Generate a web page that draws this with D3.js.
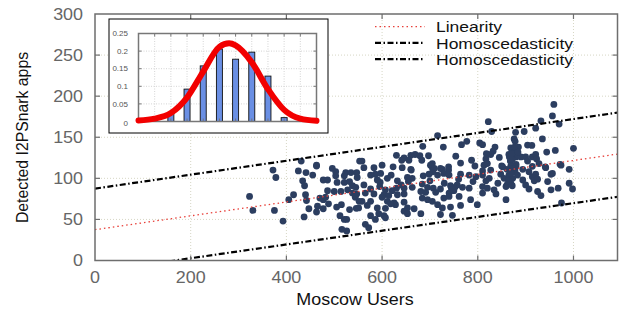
<!DOCTYPE html>
<html>
<head>
<meta charset="UTF-8">
<title>Detected I2PSnark apps vs Moscow users</title>
<script src="https://cdn.jsdelivr.net/npm/d3@7"></script>
<style>
  body { margin: 0; background: #fff; }
  text { font-family: "Liberation Sans", Arial, sans-serif; }
</style>
</head>
<body>
<script>
// axis ticks
var xTicks = [0, 200, 400, 600, 800, 1000];
var yTicks = [0, 50, 100, 150, 200, 250, 300];

// scatter (users, apps)
var points = [
  [372,110],[378,101],[425,109],[441,107],[455,104],[463,115],[434,97],[438,91],[477,98],[486,98],
  [496,112],[503,108],[503,103],[524,107],[535,107],[521,103],[547,107],[548,101],[506,95],[521,95],
  [532,96],[538,91],[545,89],[486,85],[500,84],[514,84],[528,86],[538,82],[547,81],[323,78],
  [415,80],[405,74],[440,80],[442,73],[470,76],[482,77],[477,74],[488,69],[465,66],[447,63],
  [463,59],[477,63],[505,65],[515,68],[532,62],[546,63.5],[551,64],[544,77],[552,72],[330,61],
  [375,61],[437,53],[512,54.5],[521,50],[526,50],[393,48],[516,38],[526,36],
  [431,121],[463,116],[553,121],
  [558,121],[562,113],[583,113],[600,116],[623,114],[630,128],[646,125],[641,122],[660,128],[669,129],
  [679,127.5],[656,122],[685,139],[697,127.5],[683,122],[642,113],[660,111],[701,116],[705,113],[726,111],
  [739,114],[716,152],[728,138],[754,127],[764,118.6],[766,141],[777,145],[787,122],[794,115],[804,143],
  [959,190],[956,176],[932,170],[970,166],[921,161],[822,169],[829,157],[879,156],[897,157],[876,148],
  [878,145],[935,148],[810,141],[836,138],[904,140.5],[913,140],[885,138],[869,137],[873,134],[876,132],
  [832,133],[827,129],[845,125.5],[962,134],[944,132],[1000,136.5],[865,129],[880,126],[890,126],[900,126],
  [914,126],[921,129],[923,123.5],[817,123.5],[820,118],[813,116],[868,121],[880,117],[904,121],[850,115],
  [869,115],[914,114.6],[941,114],[972,117],[991,111],[861,111],[894,111],
  [661,110],[706,108],[722,112],[739,110],[576,104],[586,105],[597,106],[619,104],[590,98],[611,100],
  [632,97],[653,101],[663,100],[686,103],[698,105],[716,104],[729,106],[740,104],[764,105],[782,104],
  [796,102],[562,92],[576,87],[595,90],[607,86],[621,85],[630,88],[646,88],[663,89],[684,93],
  [695,89],[707,88],[722,87],[745,88],[757,92],[768,89],[782,88],[565,82],[583,81],[604,80],
  [614,79],[632,80],[646,81],[681,84],[691,83],[712,83],[740,82],[750,85],[558,72],[576,72],
  [611,72],[625,70],[646,71],[684,76],[695,74],[705,72],[729,76],[740,78],[761,78],[785,74],
  [569,67],[590,64],[607,63.5],[628,68],[653,64],[667,63],[716,68],[726,64],[743,65],[764,67],
  [799,68],[593,57],[604,54.5],[646,60],[653,57],[681,57],[722,56],[747,55],[576,54.5],[586,50],
  [607,52],[565,44],[572,40],
  [810,109],[827,110],[852,114],[880,114],[907,108],[921,105],[942,113],[974,116],[810,104],[824,100],
  [817,97],[848,105],[855,100],[865,104],[873,100],[883,104],[894,98],[914,102],[918,97],[925,99],
  [953,105],[956,106],[810,90],[820,88],[834,86],[810,82],[838,81],[861,92],[869,94],[859,90],
  [907,87],[925,84],[932,79],[953,86],[968,88],[998,87],[991,94],[859,74],[975,70],
  [743,91],[748,86],[752,89],[705,118],[709,112],[873,112],[878,108],[869,106],[864,97],[872,91],
  [866,126],[872,123],[877,138],[871,130],[746,86],[600,77],[618,69],[596,95],[640,92],[655,96],
  [700,97],[730,94],[760,99],[790,96],[842,94],[900,92],[946,96],[818,130],[884,132],[928,118]
];

// fitted lines (end points)
var linearity = [[0, 37.5], [1092, 129.5]];
var homoUpper = [[0, 87.5], [1092, 180]];
var homoLower = [[0, -14], [1092, 77.5]];
var legendLabels = ["Linearity", "Homoscedasticity", "Homoscedasticity"];

// inset histogram
var histBins = [2, 3, 4, 5, 6, 7, 8, 9];
var histValues = [0.024, 0.092, 0.158, 0.206, 0.177, 0.197, 0.129, 0.011];
var curveX = [0, 1, 2, 3, 4, 5, 5.6, 6, 7, 8, 9, 10, 11];
var curveY = [0.003, 0.008, 0.024, 0.068, 0.142, 0.212, 0.222, 0.216, 0.168, 0.092, 0.033, 0.008, 0.002];
var insetYTicks = [0, 0.05, 0.1, 0.15, 0.2, 0.25];
var insetYLabels = ["0", "0.05", "0.1", "0.15", "0.2", "0.25"];

var W = 621, H = 310;
var L = 95, R = 617.5, T = 14, B = 260.5;
var svg = d3.select("body").append("svg").attr("width", W).attr("height", H);

var x = d3.scaleLinear().domain([0, 1092]).range([L, R]);
var y = d3.scaleLinear().domain([0, 300]).range([B, T]);
var stretch = 1.12;

// grid
var grid = svg.append("g");
grid.selectAll(".gx").data(xTicks.slice(1)).enter().append("line")
    .attr("x1", d => x(d)).attr("x2", d => x(d)).attr("y1", T).attr("y2", B)
    .attr("stroke", "#d6d6c4").attr("stroke-dasharray", "1,2");
grid.selectAll(".gy").data(yTicks.slice(1, -1)).enter().append("line")
    .attr("x1", L).attr("x2", R).attr("y1", d => y(d)).attr("y2", d => y(d))
    .attr("stroke", "#d6d6c4").attr("stroke-dasharray", "1,2");

svg.append("clipPath").attr("id", "plot").append("rect")
    .attr("x", L).attr("y", T).attr("width", R - L).attr("height", B - T);

var line = d3.line().x(d => x(d[0])).y(d => y(d[1]));
var lines = svg.append("g").attr("clip-path", "url(#plot)");

// points
lines.selectAll("circle").data(points).enter().append("circle")
    .attr("cx", d => x(d[0])).attr("cy", d => y(d[1])).attr("r", 3.4)
    .attr("fill", "#2c3e60");

lines.append("path").attr("d", line(linearity)).attr("fill", "none")
    .attr("stroke", "#e8403a").attr("stroke-width", 1.3).attr("stroke-dasharray", "1.5,3");
[homoUpper, homoLower].forEach(function(l) {
    lines.append("path").attr("d", line(l)).attr("fill", "none")
        .attr("stroke", "#000").attr("stroke-width", 2.2).attr("stroke-dasharray", "6,2.5,1.5,2.5");
});

// frame + inward ticks
svg.append("rect").attr("x", L).attr("y", T).attr("width", R - L).attr("height", B - T)
    .attr("fill", "none").attr("stroke", "#6e6e6e").attr("stroke-width", 1.5);
var tk = svg.append("g").attr("stroke", "#6e6e6e").attr("stroke-width", 1.2);
xTicks.slice(1).forEach(function(d) {
    tk.append("line").attr("x1", x(d)).attr("x2", x(d)).attr("y1", B).attr("y2", B - 5);
    tk.append("line").attr("x1", x(d)).attr("x2", x(d)).attr("y1", T).attr("y2", T + 5);
});
yTicks.slice(1, -1).forEach(function(d) {
    tk.append("line").attr("x1", L).attr("x2", L + 5).attr("y1", y(d)).attr("y2", y(d));
    tk.append("line").attr("x1", R).attr("x2", R - 5).attr("y1", y(d)).attr("y2", y(d));
});

// tick labels
svg.selectAll(".xl").data(xTicks).enter().append("text")
    .attr("transform", d => "translate(" + x(d) + ",283) scale(" + stretch + ",1)")
    .attr("text-anchor", "middle").attr("font-size", 16).attr("fill", "#666")
    .text(d => d);
svg.selectAll(".yl").data(yTicks).enter().append("text")
    .attr("transform", d => "translate(83," + (y(d) + 5.7) + ") scale(" + stretch + ",1)")
    .attr("text-anchor", "end").attr("font-size", 16).attr("fill", "#666")
    .text(d => d);

// axis titles
svg.append("text").attr("transform", "translate(355,305) scale(" + stretch + ",1)")
    .attr("text-anchor", "middle").attr("font-size", 16).attr("fill", "#111")
    .text("Moscow Users");
svg.append("text").attr("transform", "translate(27.5,137.5) rotate(-90) scale(1,1.1)")
    .attr("text-anchor", "middle").attr("font-size", 15.8).attr("fill", "#111")
    .text("Detected I2PSnark apps");

// legend
var lg = svg.append("g");
legendLabels.forEach(function(t, i) {
    var ly = 26.7 + i * 16.2;
    lg.append("line").attr("x1", 375).attr("x2", 425).attr("y1", ly).attr("y2", ly)
        .attr("stroke", i == 0 ? "#e8403a" : "#000")
        .attr("stroke-width", i == 0 ? 1.3 : 2.2)
        .attr("stroke-dasharray", i == 0 ? "1.5,3" : "6,2.5,1.5,2.5");
    lg.append("text").attr("transform", "translate(436," + (ly + 5.6) + ") scale(1.13,1)")
        .attr("font-size", 15.5).attr("fill", "#111").text(t);
});

// inset
var inset = svg.append("g");
inset.append("rect").attr("x", 109).attr("y", 19).attr("width", 219).attr("height", 114)
    .attr("fill", "#fff").attr("stroke", "#000").attr("stroke-width", 1);

var iL = 138.5, iR = 316.5, iT = 33.5, iB = 121.5;
var ix = d3.scaleLinear().domain([0, 11]).range([iL, iR]);
var iy = d3.scaleLinear().domain([0, 0.25]).range([iB, iT]);
var ixTicks = d3.range(1, 11);

inset.selectAll(".igx").data(ixTicks).enter().append("line")
    .attr("x1", d => ix(d)).attr("x2", d => ix(d)).attr("y1", iT).attr("y2", iB)
    .attr("stroke", "#d4d4d4").attr("stroke-dasharray", "1,1.5");
inset.selectAll(".igy").data(insetYTicks.slice(1, -1)).enter().append("line")
    .attr("x1", iL).attr("x2", iR).attr("y1", d => iy(d)).attr("y2", d => iy(d))
    .attr("stroke", "#d4d4d4").attr("stroke-dasharray", "1,1.5");

inset.selectAll(".bar").data(histBins).enter().append("rect")
    .attr("x", (d, i) => ix(d) - 3).attr("width", 6)
    .attr("y", (d, i) => iy(histValues[i])).attr("height", (d, i) => iB - iy(histValues[i]))
    .attr("fill", "#6a8fe4").attr("stroke", "#111").attr("stroke-width", 0.9);

inset.append("rect").attr("x", iL).attr("y", iT).attr("width", iR - iL).attr("height", iB - iT)
    .attr("fill", "none").attr("stroke", "#777").attr("stroke-width", 1.5);
var itk = inset.append("g").attr("stroke", "#777").attr("stroke-width", 1);
ixTicks.forEach(function(d) {
    itk.append("line").attr("x1", ix(d)).attr("x2", ix(d)).attr("y1", iT).attr("y2", iT + 3);
    itk.append("line").attr("x1", ix(d)).attr("x2", ix(d)).attr("y1", iB).attr("y2", iB - 3);
});
insetYTicks.slice(1, -1).forEach(function(d) {
    itk.append("line").attr("x1", iL).attr("x2", iL + 3).attr("y1", iy(d)).attr("y2", iy(d));
    itk.append("line").attr("x1", iR).attr("x2", iR - 3).attr("y1", iy(d)).attr("y2", iy(d));
});

inset.selectAll(".iyl").data(insetYTicks).enter().append("text")
    .attr("x", 128).attr("y", d => iy(d) + 2.7 + (d == 0 ? 2 : 0))
    .attr("text-anchor", "end").attr("font-size", 8)
    .attr("font-family", "'Liberation Serif', 'DejaVu Serif', serif").attr("fill", "#555")
    .text((d, i) => insetYLabels[i]);

var curve = d3.line().x(d => ix(d[0])).y(d => iy(d[1])).curve(d3.curveMonotoneX);
inset.append("path").attr("d", curve(curveX.map((v, i) => [v, curveY[i]])))
    .attr("fill", "none").attr("stroke", "#f20000").attr("stroke-width", 6)
    .attr("stroke-linecap", "round").attr("stroke-linejoin", "round");
</script>
</body>
</html>
